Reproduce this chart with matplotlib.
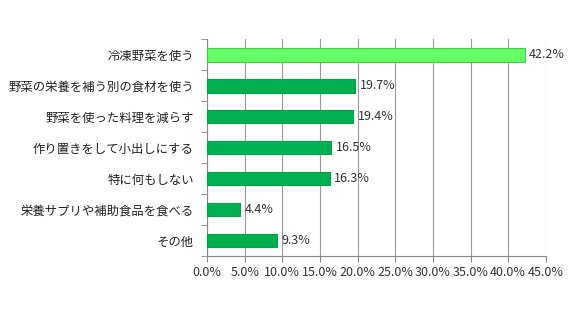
import numpy as np
import matplotlib.pyplot as plt
from matplotlib.ticker import FixedLocator

plt.rcParams['font.family'] = ['Noto Sans CJK JP', 'DejaVu Sans']

labels = ["冷凍野菜を使う", "野菜の栄養を補う別の食材を使う", "野菜を使った料理を減らす",
          "作り置きをして小出しにする", "特に何もしない", "栄養サプリや補助食品を食べる", "その他"]
values = [42.2, 19.7, 19.4, 16.5, 16.3, 4.4, 9.3]
xticks = [0, 5, 10, 15, 20, 25, 30, 35, 40, 45]

fig = plt.figure(figsize=(5.8, 3.2), dpi=100)
ax = fig.add_axes([0.357, 0.2, 0.584, 0.678])

y = np.arange(len(labels))
colors = ["#66FF66"] + ["#00B050"] * (len(labels) - 1)
edges = ["#44CC44"] + ["#00A048"] * (len(labels) - 1)
ax.barh(y, values, height=0.45, color=colors, edgecolor=edges, linewidth=0.8, zorder=3)

for yi, v in zip(y, values):
    ax.text(v + 0.6, yi, f"{v:.1f}%", va="center", ha="left", fontsize=9, color="#333333", zorder=4)

ax.set_xlim(0, 45)
ax.set_ylim(len(labels) - 0.5, -0.5)
ax.set_xticks(xticks)
ax.set_xticklabels([f"{t:.1f}%" for t in xticks], fontsize=9, color="#333333")
ax.set_yticks(y)
ax.set_yticklabels(labels, fontsize=8.9, color="#222222")
ax.tick_params(axis="y", length=0, pad=9.5)
ax.yaxis.set_minor_locator(FixedLocator(np.arange(-0.5, len(labels), 1)))
ax.tick_params(axis="y", which="minor", length=4, color="#888888")
ax.tick_params(axis="x", length=4, color="#888888", pad=3)

ax.grid(axis="x", color="#999999", linewidth=0.8, zorder=0)
for s in ["top", "right"]:
    ax.spines[s].set_visible(False)
for s in ["left", "bottom"]:
    ax.spines[s].set_color("#888888")
    ax.spines[s].set_linewidth(0.8)

fig.savefig("out.png", dpi=100)
